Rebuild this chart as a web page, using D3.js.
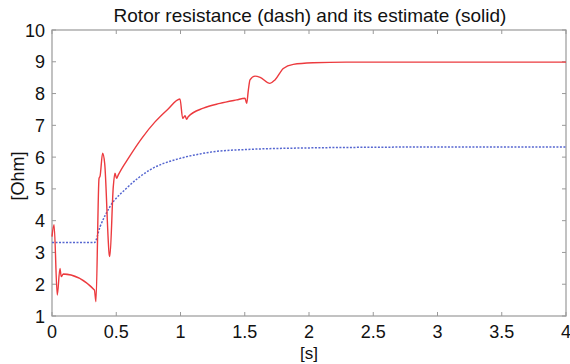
<!DOCTYPE html>
<html><head><meta charset="utf-8">
<script src="https://cdn.jsdelivr.net/npm/d3@7"></script>
<style>body{margin:0;background:#fff}svg{display:block}text{font-family:"Liberation Sans",Arial,sans-serif}</style>
</head><body><svg id="c" width="570" height="364"></svg>
<script>
const title = "Rotor resistance (dash) and its estimate (solid)";
const xLabel = "[s]";
const yLabel = "[Ohm]";
const xTicks = [0,0.5,1,1.5,2,2.5,3,3.5,4];
const xTickLabels = ["0","0.5","1","1.5","2","2.5","3","3.5","4"];
const yTicks = [1,2,3,4,5,6,7,8,9,10];
const yTickLabels = ["1","2","3","4","5","6","7","8","9","10"];

// actual rotor resistance (dashed)
const actualT = [0,0.33,0.374,0.451,0.58,0.763,0.996,1.152,1.255,1.515,2.0,2.5,3.0,3.5,4.0];
const actualR = [3.31,3.31,3.81,4.44,5.02,5.6,5.96,6.1,6.17,6.24,6.29,6.31,6.32,6.32,6.32];

// estimate (solid)
const estT = [0,0.016,0.041,0.062,0.072,0.088,0.33,0.342,0.366,0.374,0.394,0.41,0.446,0.45,0.477,0.49,0.503,0.516,0.6,0.7,0.8,0.9,0.996,1.017,1.035,1.048,1.06,1.178,1.307,1.437,1.502,1.515,1.528,1.541,1.58,1.62,1.696,1.735,1.80,1.878,2.03,2.29,3.0,4.0];
const estR = [3.5,3.87,1.66,2.5,2.24,2.32,1.82,1.45,5.33,5.4,6.12,5.8,2.92,2.87,5.07,5.49,5.33,5.44,6.0,6.6,7.1,7.5,7.83,7.22,7.3,7.19,7.27,7.54,7.69,7.8,7.85,7.69,8.11,8.43,8.55,8.51,8.32,8.43,8.79,8.92,8.97,8.99,8.99,8.99];

const svg = d3.select("#c");
const L=52, R=566, T=30, B=316;
const x = d3.scaleLinear().domain([0,4]).range([L,R]);
const y = d3.scaleLinear().domain([1,10]).range([B,T]);
const frame = "#999";
const fs = 18;

svg.append("rect").attr("x",L).attr("y",T).attr("width",R-L).attr("height",B-T)
  .attr("fill","none").attr("stroke",frame).attr("stroke-width",1.2);

const tickLen=4;
const gx = svg.append("g");
xTicks.forEach((t,i)=>{
  gx.append("line").attr("x1",x(t)).attr("x2",x(t)).attr("y1",B).attr("y2",B-tickLen).attr("stroke",frame);
  gx.append("line").attr("x1",x(t)).attr("x2",x(t)).attr("y1",T).attr("y2",T+tickLen).attr("stroke",frame);
  gx.append("text").attr("x",x(t)).attr("y",338).attr("text-anchor","middle")
    .attr("font-size",fs).attr("fill","#111").text(xTickLabels[i]);
});
const gy = svg.append("g");
yTicks.forEach((v,i)=>{
  gy.append("line").attr("x1",L).attr("x2",L+tickLen).attr("y1",y(v)).attr("y2",y(v)).attr("stroke",frame);
  gy.append("line").attr("x1",R).attr("x2",R-tickLen).attr("y1",y(v)).attr("y2",y(v)).attr("stroke",frame);
  gy.append("text").attr("x",L-7).attr("y",y(v)+6.5).attr("text-anchor","end")
    .attr("font-size",fs).attr("fill","#111").text(yTickLabels[i]);
});

const line = d3.line().x(d=>x(d[0])).y(d=>y(d[1])).curve(d3.curveMonotoneX);
svg.append("path").datum(actualT.map((t,i)=>[t,actualR[i]]))
  .attr("d",line).attr("fill","none").attr("stroke","#5566d0").attr("stroke-width",1.5)
  .attr("stroke-dasharray","2,1.5");
svg.append("path").datum(estT.map((t,i)=>[t,estR[i]]))
  .attr("d",line).attr("fill","none").attr("stroke","#ec3a3e").attr("stroke-width",1.4);

svg.append("text").attr("x",310).attr("y",22).attr("text-anchor","middle")
  .attr("font-size",19).attr("fill","#111").text(title);
svg.append("text").attr("x",(L+R)/2).attr("y",359).attr("text-anchor","middle")
  .attr("font-size",17).attr("fill","#111").text(xLabel);
svg.append("text").attr("transform",`translate(24,176) rotate(-90)`).attr("text-anchor","middle")
  .attr("font-size",fs).attr("fill","#111").text(yLabel);
</script></body></html>
